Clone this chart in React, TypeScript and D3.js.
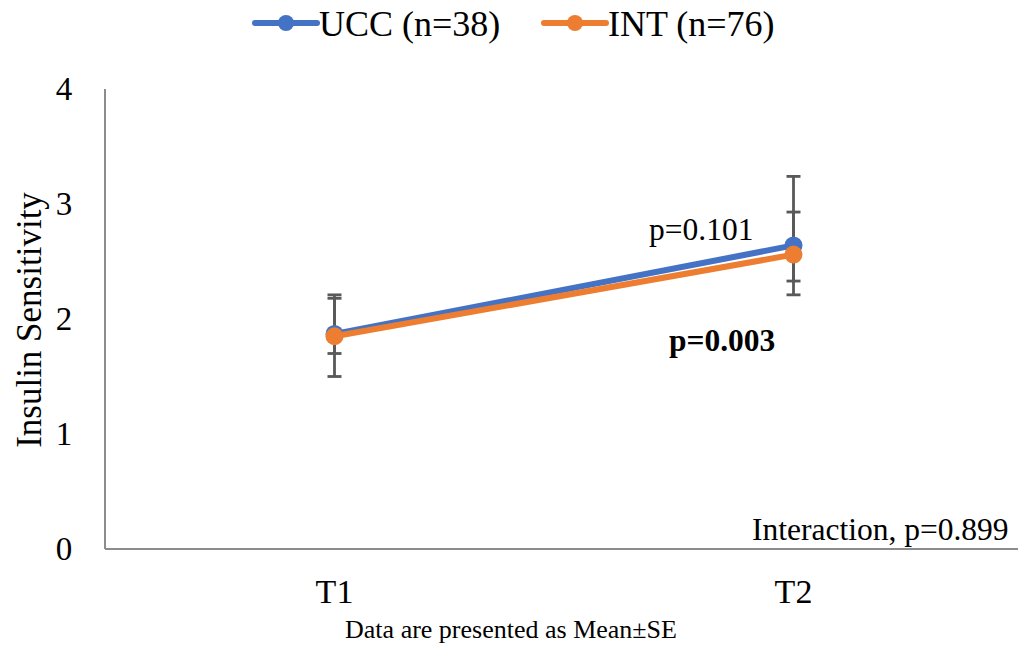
import React from "react";
import * as d3 from "d3";

const categories = ["T1", "T2"];
const uccMean = [1.87, 2.64];
const uccUpper = [2.21, 3.24];
const uccLower = [1.5, 2.21];
const intMean = [1.85, 2.56];
const intUpper = [2.18, 2.93];
const intLower = [1.7, 2.33];
const yTicks = [0, 1, 2, 3, 4];

const series = [
  { name: "UCC (n=38)", color: "#4472C4", mean: uccMean, upper: uccUpper, lower: uccLower },
  { name: "INT (n=76)", color: "#ED7D31", mean: intMean, upper: intUpper, lower: intLower },
];

const W = 1018;
const H = 648;
const left = 105;
const right = 1023;
const top = 89;
const bottom = 549;
const font = "'Liberation Serif', 'Times New Roman', serif";

export default function App() {
  const x = d3.scaleBand<string>().domain(categories).range([left, right]);
  const y = d3.scaleLinear().domain([0, 4]).range([bottom, top]);
  const cx = (c: string) => (x(c) as number) + x.bandwidth() / 2;
  const line = d3
    .line<number>()
    .x((_, i) => cx(categories[i]))
    .y((d) => y(d));

  return (
    <svg width={W} height={H} style={{ position: "absolute", left: 0, top: 0, background: "#fff" }}>
      {/* axes */}
      <line x1={left} x2={left} y1={top} y2={bottom} stroke="#8c8c8c" strokeWidth={2} />
      <line x1={left} x2={W} y1={bottom} y2={bottom} stroke="#8c8c8c" strokeWidth={2} />
      {yTicks.map((t) => (
        <text key={t} x={64} y={y(t) + 11} textAnchor="middle" fontFamily={font} fontSize={33} fill="#000">
          {t}
        </text>
      ))}
      {categories.map((c) => (
        <text key={c} x={cx(c)} y={603} textAnchor="middle" fontFamily={font} fontSize={34} fill="#000">
          {c}
        </text>
      ))}
      <text
        transform={`translate(41,${320}) rotate(-90)`}
        textAnchor="middle"
        fontFamily={font}
        fontSize={35}
        fill="#000"
      >
        Insulin Sensitivity
      </text>

      {/* error bars */}
      {series.map((s) =>
        categories.map((c, i) => (
          <g key={s.name + c} stroke="#595959" strokeWidth={2.8}>
            <line x1={cx(c)} x2={cx(c)} y1={y(s.upper[i])} y2={y(s.lower[i])} />
            <line x1={cx(c) - 7} x2={cx(c) + 7} y1={y(s.upper[i])} y2={y(s.upper[i])} />
            <line x1={cx(c) - 7} x2={cx(c) + 7} y1={y(s.lower[i])} y2={y(s.lower[i])} />
          </g>
        ))
      )}

      {/* lines and markers */}
      {series.map((s) => (
        <g key={s.name}>
          <path d={line(s.mean) || ""} fill="none" stroke={s.color} strokeWidth={6} strokeLinecap="round" />
          {s.mean.map((v, i) => (
            <circle key={i} cx={cx(categories[i])} cy={y(v)} r={9} fill={s.color} />
          ))}
        </g>
      ))}

      {/* annotations */}
      <text x={649} y={240} fontFamily={font} fontSize={31.5} fill="#000">
        p=0.101
      </text>
      <text x={669} y={351} fontFamily={font} fontSize={31.5} fontWeight="bold" fill="#000">
        p=0.003
      </text>
      <text x={752} y={540} fontFamily={font} fontSize={31.5} fill="#000">
        Interaction, p=0.899
      </text>
      <text x={511} y={638} textAnchor="middle" fontFamily={font} fontSize={26} fill="#000">
        Data are presented as Mean±SE
      </text>

      {/* legend */}
      {series.map((s, i) => {
        const lx = i === 0 ? 255 : 544;
        return (
          <g key={s.name}>
            <line x1={lx} x2={lx + 62} y1={23} y2={23} stroke={s.color} strokeWidth={6} strokeLinecap="round" />
            <circle cx={lx + 31} cy={23} r={8} fill={s.color} />
            <text x={lx + 64} y={36} fontFamily={font} fontSize={36} fill="#000">
              {s.name}
            </text>
          </g>
        );
      })}
    </svg>
  );
}
